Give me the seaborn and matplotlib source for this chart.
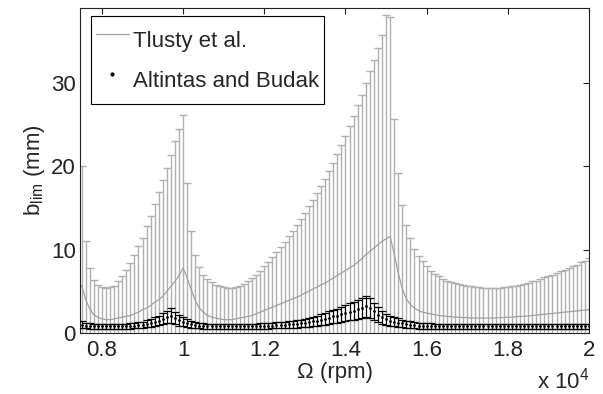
import numpy as np
import pandas as pd
import matplotlib
matplotlib.use("Agg")
import matplotlib.pyplot as plt
import seaborn as sns
from matplotlib.lines import Line2D

# sampling grid of spindle speed (rpm)
rpm_start, rpm_step, n_pts = 7500, 100, 126
rpm = np.arange(n_pts) * rpm_step + rpm_start

# Tlusty et al. : mean stability limit (mm)
tlusty_mean = [
    5.7, 4.0, 2.9, 2.2, 1.9, 1.7, 1.6, 1.6, 1.7, 1.8,
    1.9, 2.0, 2.1, 2.3, 2.5, 2.8, 3.0, 3.3, 3.7, 4.0,
    4.4, 5.0, 5.6, 6.2, 6.9, 7.8, 6.6, 5.2, 3.9, 3.0,
    2.5, 2.1, 1.9, 1.8, 1.7, 1.6, 1.6, 1.6, 1.7, 1.8,
    1.9, 2.0, 2.1, 2.3, 2.5, 2.7, 2.9, 3.1, 3.3, 3.5,
    3.7, 3.9, 4.1, 4.3, 4.5, 4.8, 5.0, 5.3, 5.5, 5.8,
    6.0, 6.3, 6.6, 6.9, 7.2, 7.5, 7.8, 8.1, 8.5, 8.9,
    9.4, 9.8, 10.2, 10.6, 11.0, 11.3, 11.6, 9.5, 7.2, 5.3,
    4.1, 3.4, 3.0, 2.7, 2.5, 2.4, 2.3, 2.2, 2.1, 2.05,
    2.0, 1.95, 1.9, 1.9, 1.85, 1.85, 1.8, 1.8, 1.8, 1.8,
    1.8, 1.8, 1.8, 1.85, 1.85, 1.9, 1.9, 1.95, 2.0, 2.0,
    2.05, 2.1, 2.15, 2.2, 2.25, 2.3, 2.35, 2.4, 2.45, 2.5,
    2.55, 2.6, 2.65, 2.7, 2.75, 2.8,
]
# Tlusty et al. : upper end of the error bar (mm)
tlusty_upper = [
    20.0, 11.0, 7.8, 6.4, 5.8, 5.5, 5.4, 5.5, 5.7, 6.2,
    6.8, 7.6, 8.4, 9.4, 10.4, 11.4, 12.8, 14.1, 15.5, 16.9,
    18.3, 19.8, 21.4, 23.0, 24.5, 26.1, 18.0, 12.2, 9.4, 7.9,
    7.0, 6.5, 6.1, 5.8, 5.6, 5.5, 5.4, 5.4, 5.5, 5.6,
    5.9, 6.2, 6.6, 7.0, 7.5, 8.0, 8.5, 9.1, 9.7, 10.3,
    10.9, 11.6, 12.3, 13.0, 13.7, 14.4, 15.2, 16.0, 16.8, 17.6,
    18.5, 19.5, 20.4, 21.5, 22.6, 23.7, 24.8, 26.0, 27.3, 28.6,
    30.0, 31.4, 32.8, 34.2, 35.8, 38.2, 37.9, 25.7, 19.2, 15.4,
    13.0, 11.4, 10.1, 9.3, 8.6, 8.0, 7.5, 7.1, 6.8, 6.5,
    6.3, 6.1, 6.0, 5.9, 5.8, 5.7, 5.6, 5.5, 5.5, 5.4,
    5.4, 5.4, 5.4, 5.4, 5.5, 5.5, 5.6, 5.7, 5.8, 5.9,
    6.0, 6.2, 6.3, 6.5, 6.7, 6.8, 7.0, 7.2, 7.4, 7.6,
    7.8, 8.0, 8.2, 8.5, 8.7, 9.0,
]
# Altintas and Budak : mean stability limit (mm)
budak_mean = [
    1.0, 0.9, 0.85, 0.8, 0.8, 0.8, 0.8, 0.8, 0.8, 0.8,
    0.8, 0.82, 0.85, 0.88, 0.92, 1.0, 1.1, 1.2, 1.35, 1.5,
    1.7, 1.9, 2.1, 1.8, 1.55, 1.35, 1.2, 1.05, 0.95, 0.9,
    0.85, 0.82, 0.8, 0.8, 0.8, 0.8, 0.8, 0.8, 0.8, 0.8,
    0.8, 0.8, 0.81, 0.82, 0.84, 0.86, 0.88, 0.9, 0.93, 0.96,
    1.0, 1.03, 1.07, 1.1, 1.15, 1.2, 1.3, 1.4, 1.5, 1.6,
    1.7, 1.85, 2.0, 2.1, 2.25, 2.4, 2.55, 2.7, 2.85, 3.0,
    3.2, 3.0, 2.6, 2.2, 1.9, 1.65, 1.5, 1.35, 1.25, 1.15,
    1.05, 1.0, 0.95, 0.9, 0.88, 0.85, 0.83, 0.82, 0.81, 0.8,
    0.8, 0.8, 0.8, 0.8, 0.8, 0.8, 0.8, 0.8, 0.8, 0.8,
    0.8, 0.8, 0.8, 0.8, 0.8, 0.8, 0.8, 0.8, 0.8, 0.8,
    0.8, 0.8, 0.8, 0.8, 0.8, 0.8, 0.8, 0.8, 0.8, 0.8,
    0.8, 0.8, 0.8, 0.8, 0.8, 0.8,
]
# Altintas and Budak : half-length of the error bar (mm)
budak_err = [
    0.4, 0.35, 0.32, 0.3, 0.3, 0.3, 0.3, 0.3, 0.3, 0.3,
    0.3, 0.31, 0.32, 0.33, 0.35, 0.38, 0.42, 0.46, 0.52, 0.58,
    0.66, 0.75, 0.85, 0.75, 0.65, 0.55, 0.48, 0.42, 0.38, 0.35,
    0.33, 0.32, 0.3, 0.3, 0.3, 0.3, 0.3, 0.3, 0.3, 0.3,
    0.3, 0.3, 0.3, 0.31, 0.32, 0.33, 0.34, 0.35, 0.36, 0.37,
    0.38, 0.4, 0.42, 0.44, 0.46, 0.48, 0.52, 0.56, 0.6, 0.64,
    0.68, 0.74, 0.8, 0.84, 0.9, 0.96, 1.02, 1.08, 1.14, 1.2,
    1.25, 1.2, 1.05, 0.9, 0.78, 0.68, 0.6, 0.54, 0.5, 0.46,
    0.42, 0.4, 0.38, 0.36, 0.35, 0.34, 0.33, 0.32, 0.31, 0.3,
    0.3, 0.3, 0.3, 0.3, 0.3, 0.3, 0.3, 0.3, 0.3, 0.3,
    0.3, 0.3, 0.3, 0.3, 0.3, 0.3, 0.3, 0.3, 0.3, 0.3,
    0.3, 0.3, 0.3, 0.3, 0.3, 0.3, 0.3, 0.3, 0.3, 0.3,
    0.3, 0.3, 0.3, 0.3, 0.3, 0.3,
]

x_ticks = [8000, 10000, 12000, 14000, 16000, 18000, 20000]
x_tick_labels = ["0.8", "1", "1.2", "1.4", "1.6", "1.8", "2"]
y_ticks = [0, 10, 20, 30]
y_tick_labels = ["0", "10", "20", "30"]
series_names = ["Tlusty et al.", "Altintas and Budak"]

sns.set_style("white")
plt.rcParams['font.family'] = ['Liberation Sans', 'DejaVu Sans']
plt.rcParams['mathtext.fontset'] = 'custom'
plt.rcParams['mathtext.rm'] = 'Liberation Sans'
plt.rcParams['mathtext.it'] = 'Liberation Sans:italic'

df = pd.DataFrame({
    "rpm": rpm,
    "tl_mean": tlusty_mean,
    "tl_upper": tlusty_upper,
    "ab_mean": budak_mean,
    "ab_err": budak_err,
})

gray_line = "#a0a0a0"
gray_bar = "#b0b0b0"
fs = 16

fig = plt.figure(figsize=(6.03, 3.94), dpi=100)
ax = fig.add_axes([80 / 603, 61 / 394, 509 / 603, 325 / 394])

ax.errorbar(df["rpm"], df["tl_mean"], yerr=df["tl_upper"] - df["tl_mean"],
            fmt="none", ecolor=gray_bar, elinewidth=1.0, capsize=3,
            capthick=1.0, zorder=1)
sns.lineplot(data=df, x="rpm", y="tl_mean", color=gray_line, linewidth=0.9,
             ax=ax, legend=False, zorder=2)
ax.errorbar(df["rpm"], df["ab_mean"], yerr=df["ab_err"], fmt="none",
            ecolor="black", elinewidth=0.8, capsize=3, capthick=0.9, zorder=3)
sns.scatterplot(data=df, x="rpm", y="ab_mean", color="black", marker="o",
                s=4, linewidth=0, ax=ax, legend=False, zorder=4)

ax.set_xlim(7460, 20000)
ax.set_ylim(0, 39)
ax.set_xticks(x_ticks)
ax.set_xticklabels(x_tick_labels)
ax.set_yticks(y_ticks)
ax.set_yticklabels(y_tick_labels)
ax.tick_params(direction="in", top=True, right=True, length=4, width=0.8,
               labelsize=fs, colors="#222222")
ax.tick_params(axis="x", pad=5)
ax.tick_params(axis="y", pad=3)
for s in ax.spines.values():
    s.set_color("#222222")
    s.set_linewidth(0.8)

ax.set_xlabel("Ω (rpm)", fontsize=fs, labelpad=1)
ax.set_ylabel("b$_{\\rm lim}$ (mm)", fontsize=fs, labelpad=3)
fig.text(589 / 603, 1 - 381 / 394, "x 10$^{4}$", ha="right", va="center",
         fontsize=fs)

handles = [
    Line2D([], [], color=gray_line, linewidth=0.9),
    Line2D([], [], color="black", marker="o", markersize=2, linestyle="none"),
]
leg = ax.legend(handles, series_names, loc="upper left",
                bbox_to_anchor=(0.021, 0.976), borderaxespad=0,
                fontsize=fs, frameon=True, fancybox=False, framealpha=1,
                edgecolor="black", handlelength=1.5, handletextpad=0.18,
                borderpad=0.22, labelspacing=0.06, handleheight=2.3)
leg.get_frame().set_linewidth(0.8)

fig.savefig("out.png", dpi=100)
